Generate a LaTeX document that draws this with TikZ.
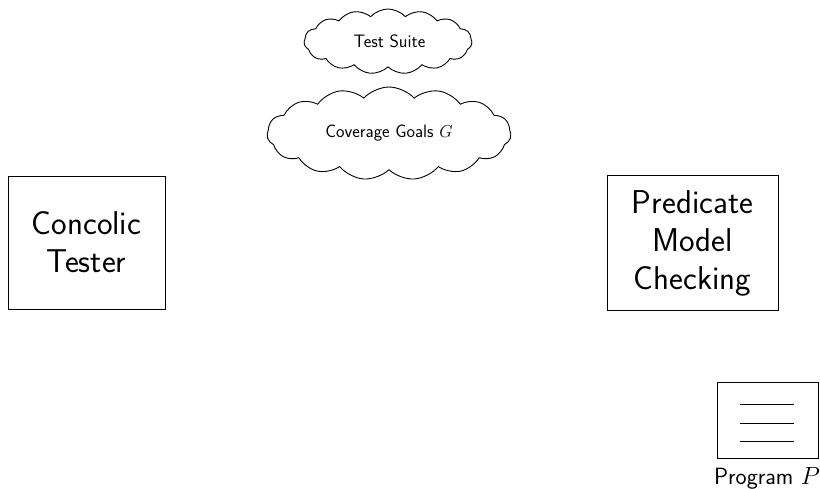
\documentclass[tikz,border=0pt]{standalone}
\usetikzlibrary{shapes.symbols}
\renewcommand{\familydefault}{\sfdefault}
\tikzset{
  px/.style={x=1pt,y=-1pt},
  bigbox/.style={draw,line width=0.9pt,align=center,inner sep=0pt,font=\fontsize{33}{38}\selectfont},
  goalcloud/.style={draw,line width=0.9pt,cloud,cloud ignores aspect,inner sep=0pt,font=\fontsize{23.7}{28}\selectfont},
  progbox/.style={draw,line width=0.9pt,minimum width=101pt,minimum height=76pt,inner sep=0pt},
  progline/.style={line width=0.9pt}
}
\begin{document}
\begin{tikzpicture}[px]
\useasboundingbox (0,0) rectangle (820,489);
\node[goalcloud,cloud puffs=15,cloud puff arc=95,minimum width=168pt,minimum height=65pt] (suite) at (388,41.5) {};
\node[font=\fontsize{18}{22}\selectfont,inner sep=0pt] (suitetext) at (389.5,41.5) {\fontsize{18}{22}\selectfont Test Suite};
\node[goalcloud,cloud puffs=15,cloud puff arc=95,minimum width=244pt,minimum height=93pt] (goals) at (389,133.5) {};
\node[inner sep=0pt,font=\fontsize{18}{22}\selectfont] (goaltext) at (389,133) {Coverage Goals $G$};
\node[bigbox,minimum width=157pt,minimum height=133pt] (tester) at (86.5,242.5) {Concolic\\Tester};
\node[bigbox,minimum width=171pt,minimum height=135pt] (pmc) at (692.5,243) {Predicate\\Model\\Checking};
\node[progbox] (prog) at (767.5,420) {};
\coordinate (l1a) at (740,404); \coordinate (l1b) at (794,404);
\coordinate (l2a) at (740,423); \coordinate (l2b) at (794,423);
\coordinate (l3a) at (740,441); \coordinate (l3b) at (794,441);
\draw[progline] (l1a) -- (l1b);
\draw[progline] (l2a) -- (l2b);
\draw[progline] (l3a) -- (l3b);
\node[inner sep=0pt,font=\fontsize{23.5}{28}\selectfont] (plabel) at (767,478) {Program $P$};
\end{tikzpicture}
\end{document}
